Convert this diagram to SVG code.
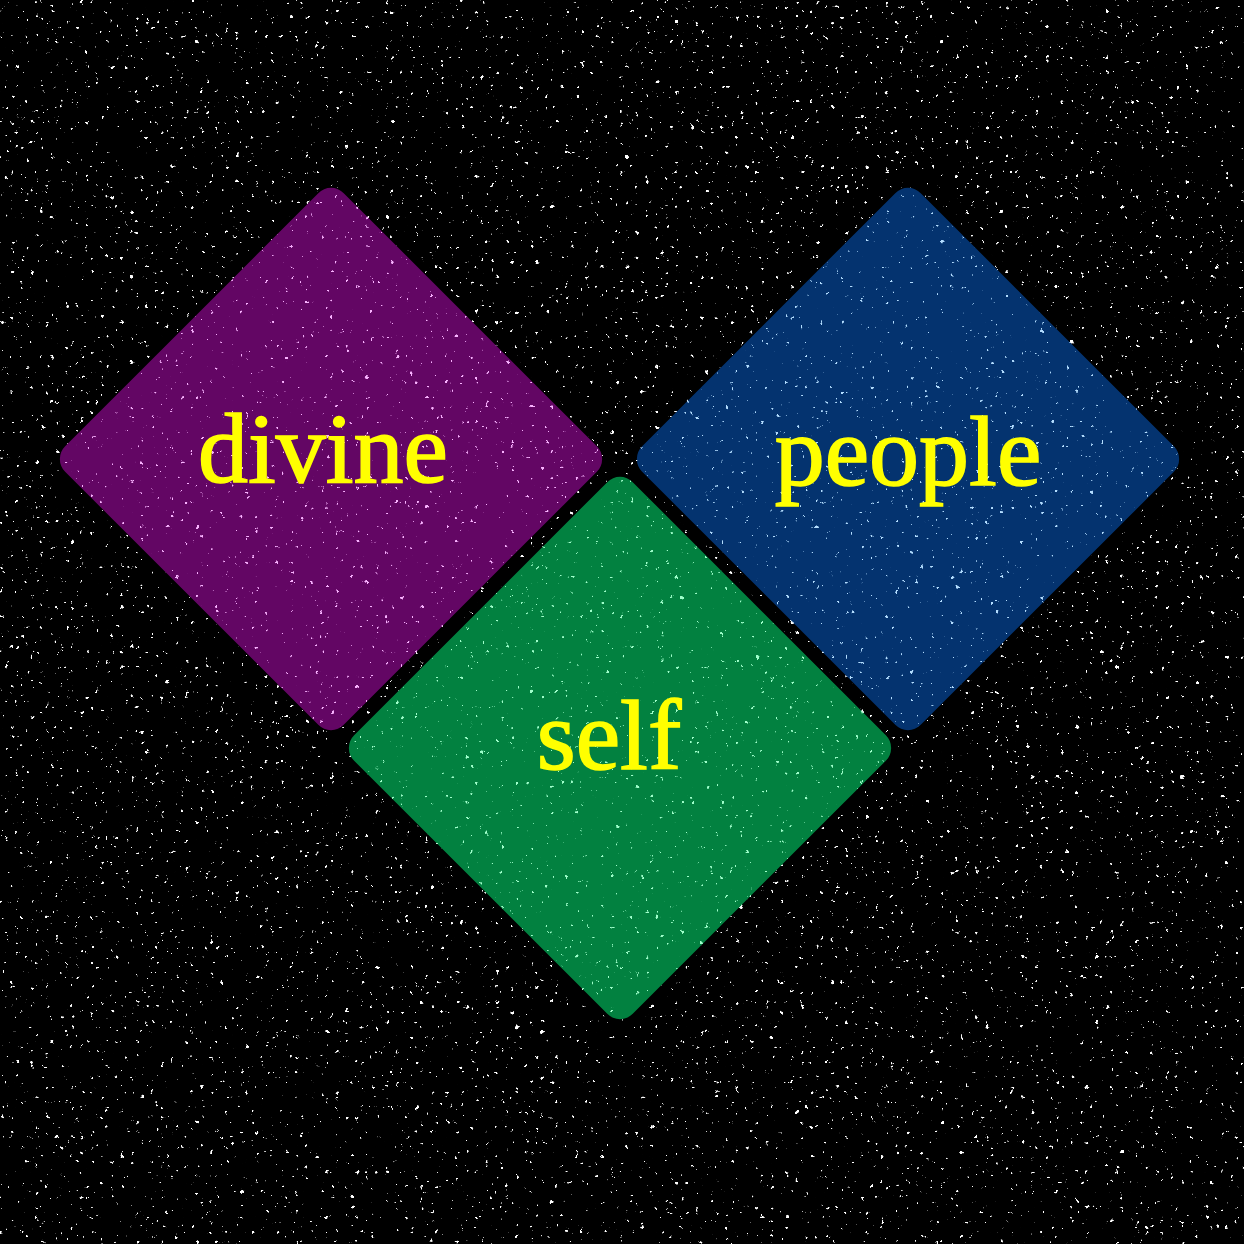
<svg xmlns="http://www.w3.org/2000/svg" width="1244" height="1244" viewBox="0 0 1244 1244">
<style>
.lbl{font-family:"Liberation Serif","Times New Roman",serif;font-size:100px;fill:#ffff00;stroke:#ffff00;stroke-width:1.6px;text-anchor:middle}
</style>
<defs>
<filter id="spkW" filterUnits="userSpaceOnUse" x="0" y="0" width="1244" height="1244">
<feTurbulence type="fractalNoise" baseFrequency="0.2" numOctaves="3" seed="7"/>
<feColorMatrix type="matrix" values="0 0 0 0 1  0 0 0 0 1  0 0 0 0 1  1 0 0 0 0"/>
<feComponentTransfer><feFuncA type="linear" slope="20" intercept="-14.5"/></feComponentTransfer>
</filter>
<filter id="spkP" filterUnits="userSpaceOnUse" x="0" y="0" width="1244" height="1244">
<feTurbulence type="fractalNoise" baseFrequency="0.2" numOctaves="3" seed="7"/>
<feColorMatrix type="matrix" values="0 0 0 0 0.95  0 0 0 0 0.45  0 0 0 0 1  1 0 0 0 0"/>
<feComponentTransfer><feFuncA type="linear" slope="20" intercept="-14.7"/></feComponentTransfer>
</filter>
<filter id="spkB" filterUnits="userSpaceOnUse" x="0" y="0" width="1244" height="1244">
<feTurbulence type="fractalNoise" baseFrequency="0.2" numOctaves="3" seed="7"/>
<feColorMatrix type="matrix" values="0 0 0 0 0.45  0 0 0 0 0.72  0 0 0 0 1  1 0 0 0 0"/>
<feComponentTransfer><feFuncA type="linear" slope="20" intercept="-14.7"/></feComponentTransfer>
</filter>
<filter id="spkG" filterUnits="userSpaceOnUse" x="0" y="0" width="1244" height="1244">
<feTurbulence type="fractalNoise" baseFrequency="0.2" numOctaves="3" seed="7"/>
<feColorMatrix type="matrix" values="0 0 0 0 0.35  0 0 0 0 1  0 0 0 0 0.6  1 0 0 0 0"/>
<feComponentTransfer><feFuncA type="linear" slope="20" intercept="-14.7"/></feComponentTransfer>
</filter>
<rect id="dia" x="-197" y="-197" width="394" height="394" rx="18" ry="18"/>
<clipPath id="cP"><use href="#dia" transform="translate(331 459) rotate(45)"/></clipPath>
<clipPath id="cB"><use href="#dia" transform="translate(908 459) rotate(45)"/></clipPath>
<clipPath id="cG"><use href="#dia" transform="translate(620 748) rotate(45)"/></clipPath>
</defs>
<g id="background">
<rect width="1244" height="1244" fill="#000"/>
<rect width="1244" height="1244" filter="url(#spkW)"/>
</g>
<g id="connectors"/>
<g id="node-divine">
<use href="#dia" transform="translate(331 459) rotate(45)" fill="#630664"/>
<rect width="1244" height="1244" filter="url(#spkP)" clip-path="url(#cP)"/>
<text class="lbl" x="323" y="482">divine</text>
</g>
<g id="node-people">
<use href="#dia" transform="translate(908 459) rotate(45)" fill="#04336f"/>
<rect width="1244" height="1244" filter="url(#spkB)" clip-path="url(#cB)"/>
<text class="lbl" x="908" y="485">people</text>
</g>
<g id="node-self">
<use href="#dia" transform="translate(620 748) rotate(45)" fill="#028140"/>
<rect width="1244" height="1244" filter="url(#spkG)" clip-path="url(#cG)"/>
<text class="lbl" x="609" y="769">self</text>
</g>
</svg>
